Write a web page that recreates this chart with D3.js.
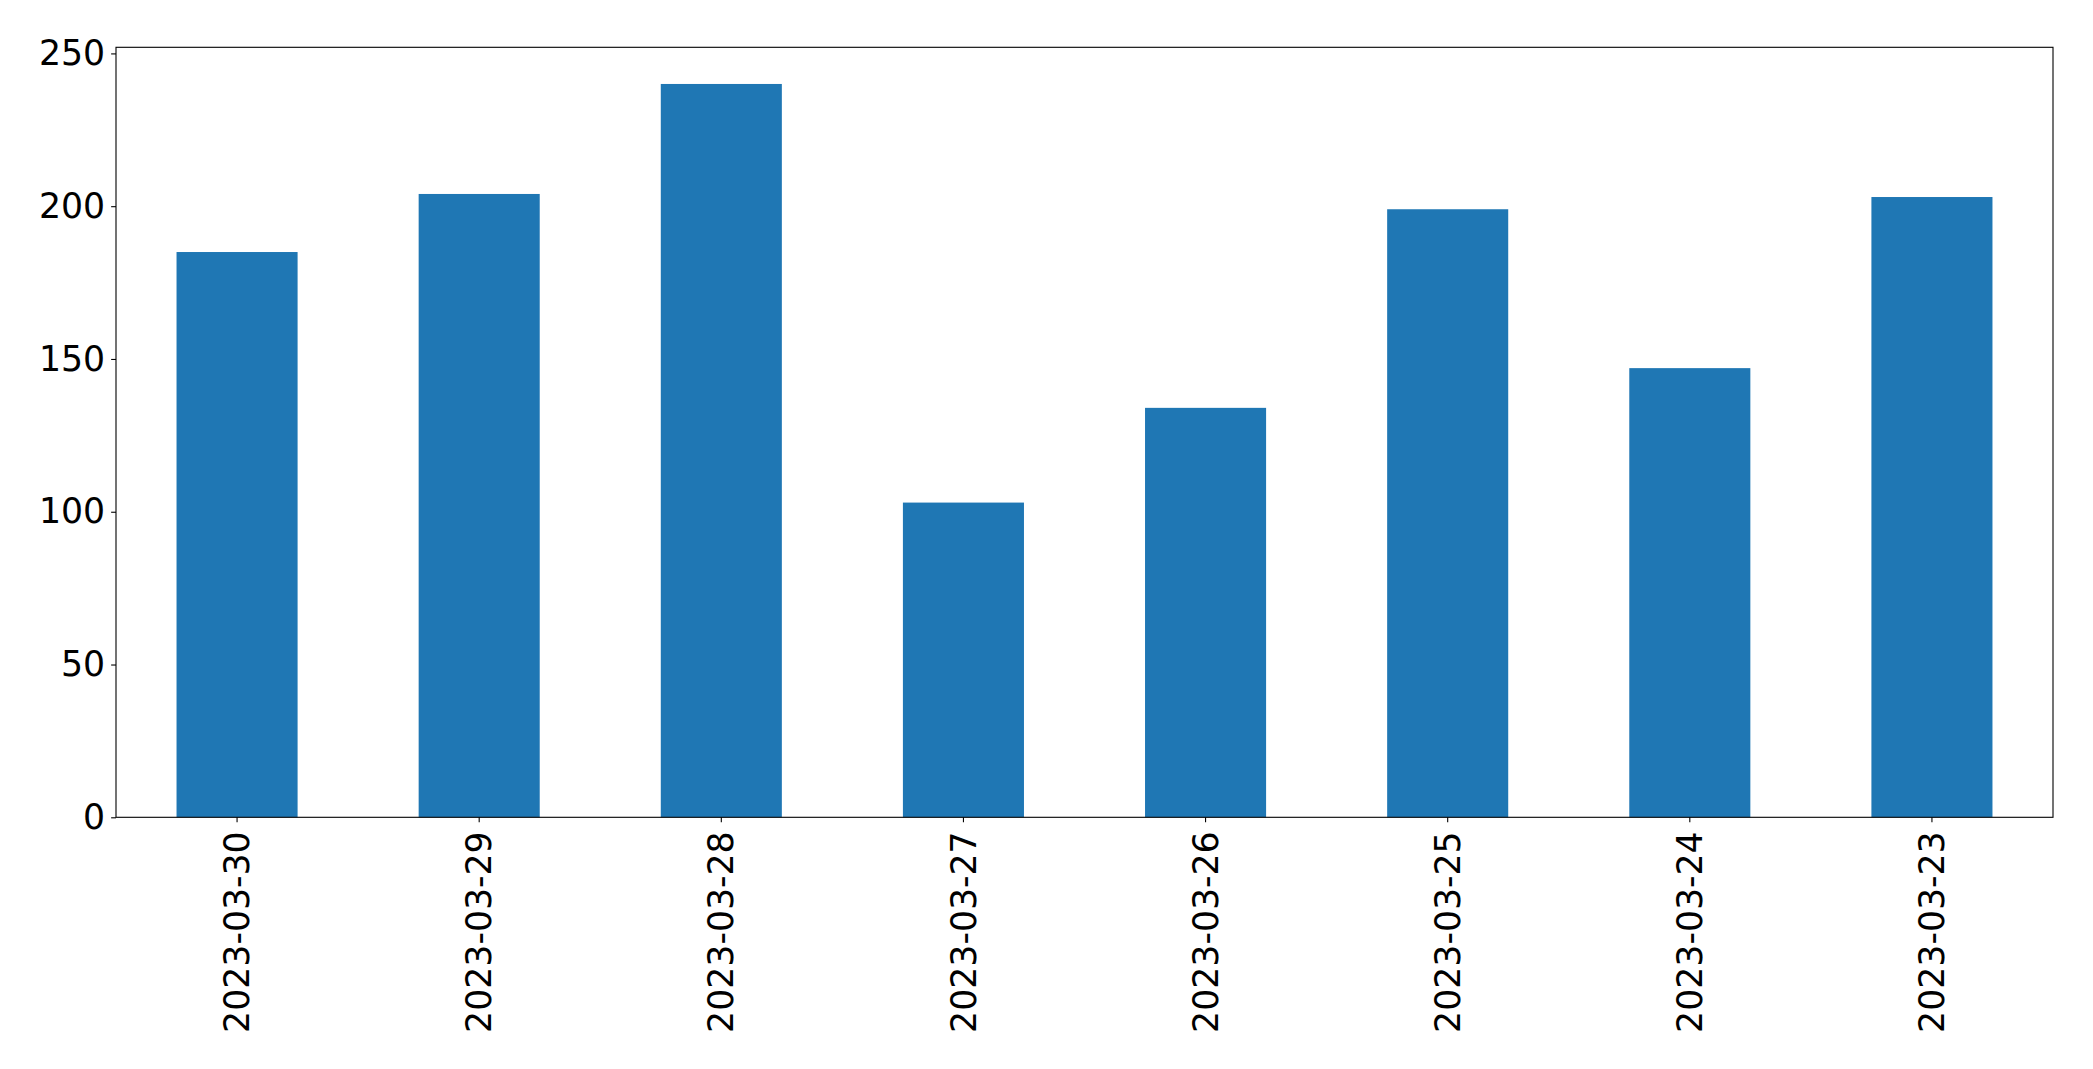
<!DOCTYPE html>
<html><head><meta charset="utf-8">
<script src="https://cdn.jsdelivr.net/npm/d3@7"></script>
<style>html,body{margin:0;padding:0;background:#fff;}svg{display:block;}</style>
</head><body>
<script>
const categories = ["2023-03-30","2023-03-29","2023-03-28","2023-03-27","2023-03-26","2023-03-25","2023-03-24","2023-03-23"];
const values = [185, 204, 240, 103, 134, 199, 147, 203];
const yTicks = [0, 50, 100, 150, 200, 250];

const W = 2093, H = 1069;
const m = {left: 116, right: 2093 - 2053, top: 47.3, bottom: 1069 - 817.3};
const iw = W - m.left - m.right, ih = H - m.top - m.bottom;

const svg = d3.select("body").append("svg").attr("width", W).attr("height", H);
const g = svg.append("g").attr("transform", `translate(${m.left},${m.top})`);

const x = d3.scaleBand().domain(categories).range([0, iw]).paddingInner(0.5).paddingOuter(0.25);
const y = d3.scaleLinear().domain([0, 252]).range([ih, 0]);

g.selectAll("rect.bar").data(values).enter().append("rect")
  .attr("class","bar")
  .attr("x", (d,i) => x(categories[i]))
  .attr("width", x.bandwidth())
  .attr("y", d => y(d))
  .attr("height", d => y(0) - y(d))
  .attr("fill", "#1f77b4");

const font = "'DejaVu Sans', sans-serif";
const yAxis = g.append("g").call(d3.axisLeft(y).tickValues(yTicks).tickSize(4.86).tickPadding(6).tickFormat(d3.format("d")));
const xAxis = g.append("g").attr("transform", `translate(0,${ih})`).call(d3.axisBottom(x).tickSize(4.86).tickPadding(4.86));
[yAxis, xAxis].forEach(a => {
  a.select(".domain").remove();
  a.selectAll("line").attr("stroke","#000").attr("stroke-width",1.1);
  a.selectAll("text").attr("font-family", font).attr("font-size", "34.7px").attr("fill","#000");
});
xAxis.selectAll("text")
  .attr("transform", "rotate(-90)")
  .attr("text-anchor", "end")
  .attr("dy", "0.35em")
  .attr("x", -14)
  .attr("y", 0);

g.append("rect").attr("x",0).attr("y",0).attr("width",iw).attr("height",ih)
  .attr("fill","none").attr("stroke","#000").attr("stroke-width",1.1);
</script>
</body></html>
